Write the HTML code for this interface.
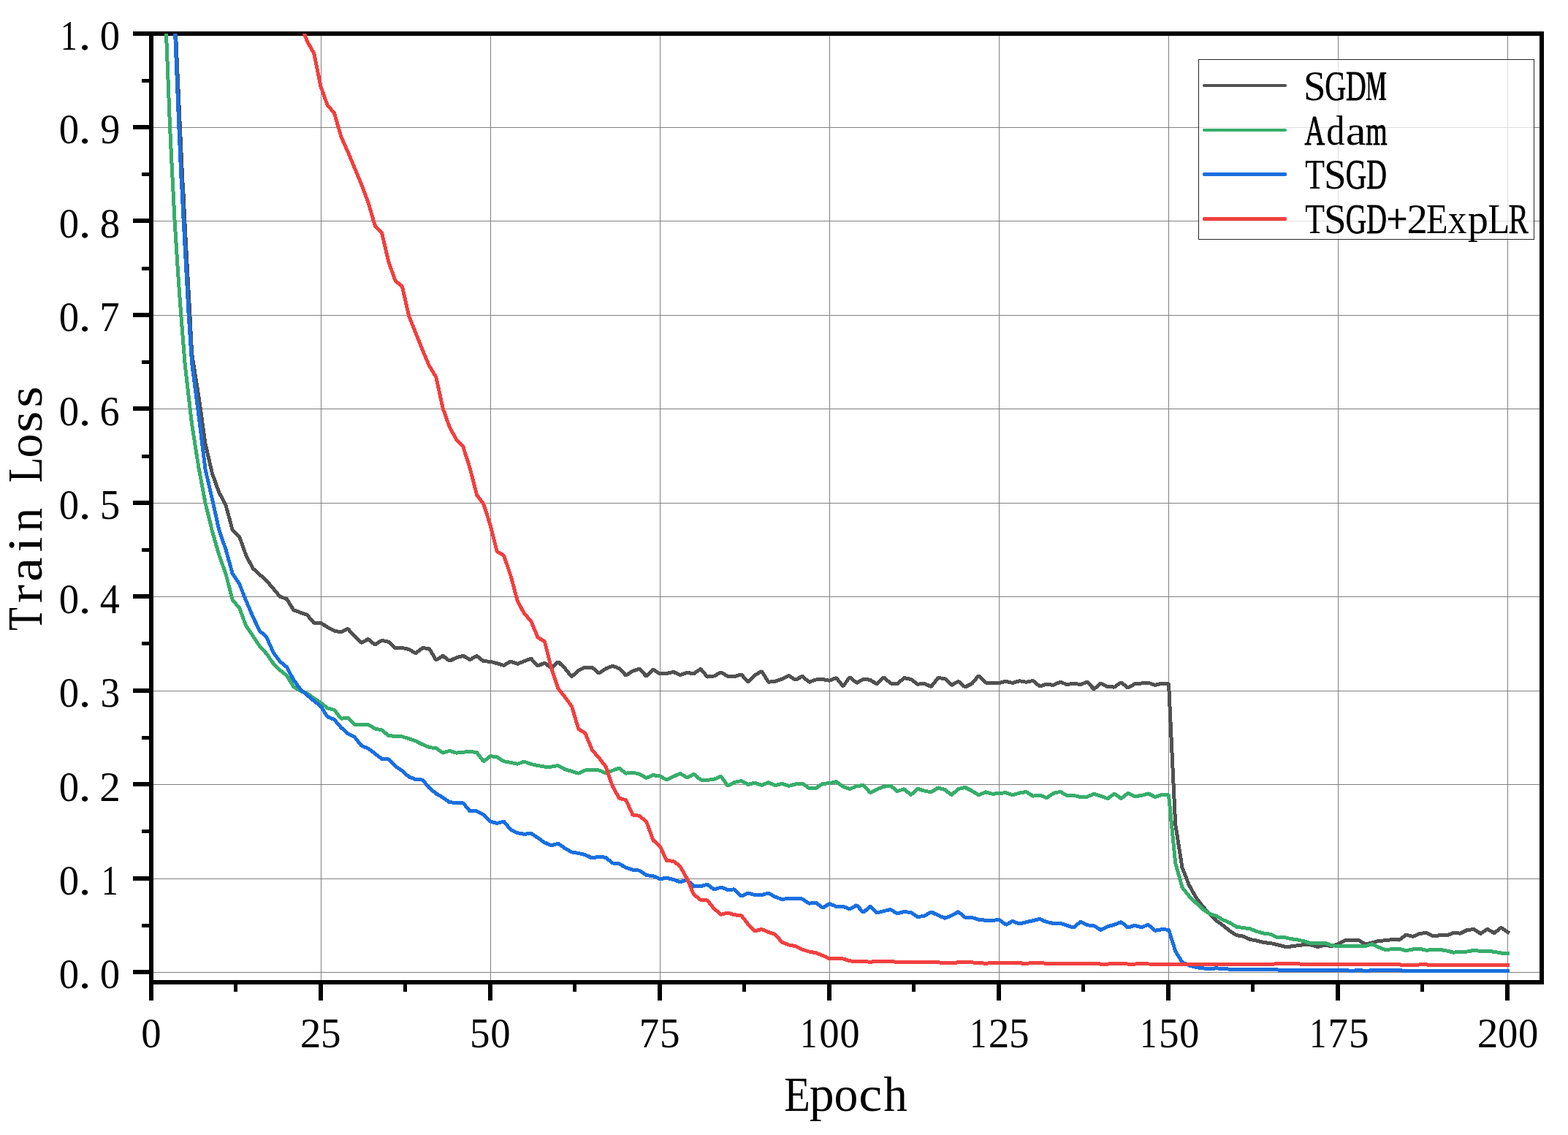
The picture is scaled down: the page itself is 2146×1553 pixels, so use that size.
<!DOCTYPE html>
<html lang="en"><head><meta charset="utf-8"><title>Train Loss</title>
<style>
html,body{margin:0;padding:0;background:#fff;}
body{width:2146px;height:1553px;overflow:hidden;}
svg{display:block;}
text{font-family:"Liberation Serif","DejaVu Serif",serif;fill:#000;}
</style></head>
<body>
<svg width="2146" height="1553" viewBox="0 0 2146 1553">
<rect x="0" y="0" width="2146" height="1553" fill="#fff"/>
<g fill="#808080" shape-rendering="crispEdges"><rect x="439" y="46" width="1" height="1298"/><rect x="671" y="46" width="1" height="1298"/><rect x="903" y="46" width="1" height="1298"/><rect x="1135" y="46" width="1" height="1298"/><rect x="1367" y="46" width="1" height="1298"/><rect x="1599" y="46" width="1" height="1298"/><rect x="1831" y="46" width="1" height="1298"/><rect x="2063" y="46" width="1" height="1298"/><rect x="207" y="174" width="1903" height="1"/><rect x="207" y="302" width="1903" height="1"/><rect x="207" y="431" width="1903" height="1"/><rect x="207" y="559" width="1903" height="1"/><rect x="207" y="688" width="1903" height="1"/><rect x="207" y="816" width="1903" height="1"/><rect x="207" y="945" width="1903" height="1"/><rect x="207" y="1073" width="1903" height="1"/><rect x="207" y="1202" width="1903" height="1"/><rect x="207" y="1330" width="1903" height="1"/></g>
<g fill="#000" shape-rendering="crispEdges">
<rect x="182" y="43" width="1931" height="6"/><rect x="204" y="1341" width="1909" height="6"/><rect x="204" y="43" width="6" height="1326"/><rect x="2107" y="43" width="6" height="1304"/><rect x="182" y="171" width="22" height="6"/><rect x="182" y="299" width="22" height="6"/><rect x="182" y="428" width="22" height="6"/><rect x="182" y="556" width="22" height="6"/><rect x="182" y="685" width="22" height="6"/><rect x="182" y="813" width="22" height="6"/><rect x="182" y="942" width="22" height="6"/><rect x="182" y="1070" width="22" height="6"/><rect x="182" y="1199" width="22" height="6"/><rect x="182" y="1327" width="22" height="6"/><rect x="194" y="1264" width="10" height="5"/><rect x="194" y="1135" width="10" height="5"/><rect x="194" y="1007" width="10" height="5"/><rect x="194" y="878" width="10" height="5"/><rect x="194" y="750" width="10" height="5"/><rect x="194" y="622" width="10" height="5"/><rect x="194" y="493" width="10" height="5"/><rect x="194" y="365" width="10" height="5"/><rect x="194" y="236" width="10" height="5"/><rect x="194" y="108" width="10" height="5"/><rect x="436" y="1347" width="6" height="22"/><rect x="668" y="1347" width="6" height="22"/><rect x="900" y="1347" width="6" height="22"/><rect x="1132" y="1347" width="6" height="22"/><rect x="1364" y="1347" width="6" height="22"/><rect x="1596" y="1347" width="6" height="22"/><rect x="1828" y="1347" width="6" height="22"/><rect x="2060" y="1347" width="6" height="22"/><rect x="320" y="1347" width="5" height="10"/><rect x="552" y="1347" width="5" height="10"/><rect x="784" y="1347" width="5" height="10"/><rect x="1016" y="1347" width="5" height="10"/><rect x="1248" y="1347" width="5" height="10"/><rect x="1480" y="1347" width="5" height="10"/><rect x="1712" y="1347" width="5" height="10"/><rect x="1944" y="1347" width="5" height="10"/>
</g>
<defs><clipPath id="plotclip"><rect x="207" y="46" width="1903" height="1298"/></clipPath></defs>
<g clip-path="url(#plotclip)" fill="none" stroke-width="5" stroke-linejoin="bevel" stroke-linecap="square" shape-rendering="crispEdges">
<polyline stroke="#515151" stroke-width="3.6" shape-rendering="geometricPrecision" points="239.8,26 240.5,45.9 246.4,174.5 250.3,257 250.3,250 252.8,302.5 259.9,431.3 262.6,484.1 271.8,541.9 281.1,607.4 290.4,647.6 299.7,673.6 309,691.2 318.3,725.6 327.5,734 336.8,760 346.1,777.7 355.4,786.1 364.7,794.5 374,805.4 383.2,816.3 392.5,819.6 401.8,834.7 411.1,838.1 420.4,841.4 429.7,852.3 439,852.3 448.2,858.2 457.5,863.2 466.8,864.9 476.1,860.4 485.4,870.8 494.7,879.5 503.9,874.5 513.2,882.2 522.5,876.2 531.8,878.3 541.1,886.7 550.4,886.5 559.6,888.4 568.9,893.9 578.2,886.7 587.5,887.5 596.8,903.2 606.1,897.3 615.3,904.3 624.6,899.8 633.9,897.3 643.2,902.6 652.5,897.3 661.8,904.8 671.1,905.2 680.3,907.7 689.6,910.5 698.9,904.9 708.2,908.4 717.5,904.6 726.8,901.2 736,911.3 745.3,907 754.6,914 763.9,905.4 773.2,914.6 782.5,925.9 791.7,917.2 801,913 810.3,913 819.6,921.4 828.9,914.9 838.2,911.2 847.4,914.6 856.7,924.2 866,918 875.3,915.2 884.6,925.3 893.9,916.1 903.2,921.9 912.4,921.4 921.7,919.4 931,923.6 940.3,920.3 949.6,921.9 958.9,915.2 968.1,926.1 977.4,925 986.7,919.8 996,925.3 1005.3,925.6 1014.6,922.8 1023.8,933.2 1033.1,924 1042.4,918.4 1051.7,933.3 1061,932.2 1070.3,929 1079.5,924.5 1088.8,930.3 1098.1,925.3 1107.4,933.3 1116.7,930 1126,929.5 1135.2,931.2 1144.5,927.5 1153.8,939 1163.1,926.5 1172.4,934.5 1181.7,929.2 1191,930.3 1200.2,936.2 1209.5,926.5 1218.8,935 1228.1,935.9 1237.4,927.5 1246.7,929.5 1255.9,936.2 1265.2,935.4 1274.5,939.6 1283.8,927.5 1293.1,928.6 1302.4,937.5 1311.6,932.3 1320.9,940.1 1330.2,935.4 1339.5,924.5 1348.8,934 1358.1,934.2 1367.3,934.5 1376.6,932.3 1385.9,934.5 1395.2,931.7 1404.5,933.3 1413.8,931.5 1423.1,939.2 1432.3,936.2 1441.6,937.4 1450.9,933.2 1460.2,936.5 1469.5,935.4 1478.8,936.5 1488,933.2 1497.3,942.9 1506.6,935 1515.9,939.6 1525.2,940.1 1534.5,933.7 1543.7,941.2 1553,935.9 1562.3,935 1571.6,934.2 1580.9,937.4 1590.2,935 1599.5,935.4 1608.7,1127.9 1618,1187.3 1627.3,1210.8 1636.6,1227.6 1645.9,1240.1 1655.2,1250.2 1664.4,1259.4 1673.7,1266.1 1683,1273.7 1692.3,1279.6 1701.6,1281.2 1710.9,1285.4 1720.1,1287.1 1729.4,1289.6 1738.7,1290.5 1748,1292.6 1757.3,1295 1766.6,1295 1775.8,1293.8 1785.1,1292.5 1794.4,1292.9 1803.7,1295.6 1813,1293 1822.3,1294.7 1831.5,1291.6 1840.8,1286.8 1850.1,1286.8 1859.4,1286.2 1868.7,1292.2 1878,1289.9 1887.3,1287.3 1896.5,1286.8 1905.8,1285.5 1915.1,1286.1 1924.4,1279.2 1933.7,1281.4 1943,1277.5 1952.2,1276.3 1961.5,1280.9 1970.8,1279.7 1980.1,1280 1989.4,1276.3 1998.7,1277.2 2007.9,1272.5 2017.2,1271.6 2026.5,1277.5 2035.8,1271.3 2045.1,1276.7 2054.4,1269.3 2063.7,1275.5"/>
<polyline stroke="#515151" points="239.8,26 240.5,45.9 246.4,174.5 250.3,257 250.3,250 252.8,302.5 259.9,431.3 262.6,484.1 271.8,541.9 281.1,607.4 290.4,647.6 299.7,673.6 309,691.2 318.3,725.6 327.5,734 336.8,760 346.1,777.7 355.4,786.1 364.7,794.5 374,805.4 383.2,816.3 392.5,819.6 401.8,834.7 411.1,838.1 420.4,841.4 429.7,852.3 439,852.3 448.2,858.2 457.5,863.2 466.8,864.9 476.1,860.4 485.4,870.8 494.7,879.5 503.9,874.5 513.2,882.2 522.5,876.2 531.8,878.3 541.1,886.7 550.4,886.5 559.6,888.4 568.9,893.9 578.2,886.7 587.5,887.5 596.8,903.2 606.1,897.3 615.3,904.3 624.6,899.8 633.9,897.3 643.2,902.6 652.5,897.3 661.8,904.8 671.1,905.2 680.3,907.7 689.6,910.5 698.9,904.9 708.2,908.4 717.5,904.6 726.8,901.2 736,911.3 745.3,907 754.6,914 763.9,905.4 773.2,914.6 782.5,925.9 791.7,917.2 801,913 810.3,913 819.6,921.4 828.9,914.9 838.2,911.2 847.4,914.6 856.7,924.2 866,918 875.3,915.2 884.6,925.3 893.9,916.1 903.2,921.9 912.4,921.4 921.7,919.4 931,923.6 940.3,920.3 949.6,921.9 958.9,915.2 968.1,926.1 977.4,925 986.7,919.8 996,925.3 1005.3,925.6 1014.6,922.8 1023.8,933.2 1033.1,924 1042.4,918.4 1051.7,933.3 1061,932.2 1070.3,929 1079.5,924.5 1088.8,930.3 1098.1,925.3 1107.4,933.3 1116.7,930 1126,929.5 1135.2,931.2 1144.5,927.5 1153.8,939 1163.1,926.5 1172.4,934.5 1181.7,929.2 1191,930.3 1200.2,936.2 1209.5,926.5 1218.8,935 1228.1,935.9 1237.4,927.5 1246.7,929.5 1255.9,936.2 1265.2,935.4 1274.5,939.6 1283.8,927.5 1293.1,928.6 1302.4,937.5 1311.6,932.3 1320.9,940.1 1330.2,935.4 1339.5,924.5 1348.8,934 1358.1,934.2 1367.3,934.5 1376.6,932.3 1385.9,934.5 1395.2,931.7 1404.5,933.3 1413.8,931.5 1423.1,939.2 1432.3,936.2 1441.6,937.4 1450.9,933.2 1460.2,936.5 1469.5,935.4 1478.8,936.5 1488,933.2 1497.3,942.9 1506.6,935 1515.9,939.6 1525.2,940.1 1534.5,933.7 1543.7,941.2 1553,935.9 1562.3,935 1571.6,934.2 1580.9,937.4 1590.2,935 1599.5,935.4 1608.7,1127.9 1618,1187.3 1627.3,1210.8 1636.6,1227.6 1645.9,1240.1 1655.2,1250.2 1664.4,1259.4 1673.7,1266.1 1683,1273.7 1692.3,1279.6 1701.6,1281.2 1710.9,1285.4 1720.1,1287.1 1729.4,1289.6 1738.7,1290.5 1748,1292.6 1757.3,1295 1766.6,1295 1775.8,1293.8 1785.1,1292.5 1794.4,1292.9 1803.7,1295.6 1813,1293 1822.3,1294.7 1831.5,1291.6 1840.8,1286.8 1850.1,1286.8 1859.4,1286.2 1868.7,1292.2 1878,1289.9 1887.3,1287.3 1896.5,1286.8 1905.8,1285.5 1915.1,1286.1 1924.4,1279.2 1933.7,1281.4 1943,1277.5 1952.2,1276.3 1961.5,1280.9 1970.8,1279.7 1980.1,1280 1989.4,1276.3 1998.7,1277.2 2007.9,1272.5 2017.2,1271.6 2026.5,1277.5 2035.8,1271.3 2045.1,1276.7 2054.4,1269.3 2063.7,1275.5"/>
<polyline stroke="#37AD6B" stroke-width="3.6" shape-rendering="geometricPrecision" points="226.6,26 227.5,45.9 232.6,174.5 234.7,217.5 236.4,250 239.1,302.5 244,379.2 247.8,431.3 253.3,500 262.6,580.5 271.8,639.2 281.1,688.4 290.4,726.5 299.7,759.2 309,785.2 318.3,821.3 327.5,831.4 336.8,856.5 346.1,869.9 355.4,884.2 364.7,894.3 374,907.7 383.2,916.9 392.5,924.5 401.8,939.6 411.1,945.4 420.4,948.8 429.7,955.5 439,961.7 448.2,968.9 457.5,971.4 466.8,983.2 476.1,982.3 485.4,991.5 494.7,991.5 503.9,991.5 513.2,996.9 522.5,999 531.8,1006.6 541.1,1007.4 550.4,1007.8 559.6,1010.8 568.9,1013.9 578.2,1018.6 587.5,1022.6 596.8,1023.6 606.1,1030.2 615.3,1027.3 624.6,1030.2 633.9,1029.2 643.2,1028.3 652.5,1029.6 661.8,1041.8 671.1,1034.6 680.3,1035.9 689.6,1041.8 698.9,1043.3 708.2,1045.3 717.5,1042.1 726.8,1045.5 736,1047.5 745.3,1049.1 754.6,1049.1 763.9,1047.5 773.2,1052.6 782.5,1055.4 791.7,1058.2 801,1054 810.3,1053.2 819.6,1054 828.9,1057.8 838.2,1054.3 847.4,1050.9 856.7,1058.2 866,1057.1 875.3,1059.2 884.6,1064.5 893.9,1060.6 903.2,1062 912.4,1067 921.7,1062.5 931,1058.3 940.3,1064.2 949.6,1059.2 958.9,1067 968.1,1067.4 977.4,1066.2 986.7,1062.3 996,1075.1 1005.3,1070.4 1014.6,1068.4 1023.8,1073.4 1033.1,1071.2 1042.4,1074.4 1051.7,1070.6 1061,1074.6 1070.3,1072.4 1079.5,1075.4 1088.8,1072.9 1098.1,1072.1 1107.4,1078.5 1116.7,1078.5 1126,1072.4 1135.2,1071.7 1144.5,1069.6 1153.8,1076.3 1163.1,1079.6 1172.4,1075.8 1181.7,1074.3 1191,1084.7 1200.2,1080.1 1209.5,1076.3 1218.8,1075.1 1228.1,1082.6 1237.4,1079.6 1246.7,1087.7 1255.9,1079.3 1265.2,1082.1 1274.5,1083.8 1283.8,1077.9 1293.1,1080.5 1302.4,1087.7 1311.6,1079.6 1320.9,1077.4 1330.2,1082.1 1339.5,1088 1348.8,1083.8 1358.1,1086.3 1367.3,1085.5 1376.6,1084.7 1385.9,1087.8 1395.2,1085.1 1404.5,1083.5 1413.8,1089.2 1423.1,1088 1432.3,1091.7 1441.6,1085.5 1450.9,1083.3 1460.2,1088.5 1469.5,1088.5 1478.8,1090.5 1488,1090.2 1497.3,1086.3 1506.6,1089.4 1515.9,1092.7 1525.2,1086 1534.5,1092.7 1543.7,1085.2 1553,1089.7 1562.3,1088.5 1571.6,1085.8 1580.9,1090.5 1590.2,1087.5 1599.5,1088 1608.7,1180.9 1618,1214.1 1627.3,1225.9 1636.6,1235.1 1645.9,1244 1655.2,1250.2 1664.4,1253.1 1673.7,1258.6 1683,1262.5 1692.3,1268.2 1701.6,1269.5 1710.9,1270.8 1720.1,1274.5 1729.4,1277 1738.7,1278.2 1748,1282.9 1757.3,1282.4 1766.6,1284.6 1775.8,1285.9 1785.1,1287.9 1794.4,1291 1803.7,1290.1 1813,1290.1 1822.3,1293.5 1831.5,1294.7 1840.8,1294.7 1850.1,1294.7 1859.4,1294.7 1868.7,1294.7 1878,1291.8 1887.3,1296.2 1896.5,1299.8 1905.8,1298.5 1915.1,1298.2 1924.4,1300.7 1933.7,1299 1943,1298.1 1952.2,1300.3 1961.5,1299.3 1970.8,1299.3 1980.1,1301 1989.4,1303.2 1998.7,1302 2007.9,1302 2017.2,1300.3 2026.5,1301.5 2035.8,1301.2 2045.1,1302.3 2054.4,1304 2063.7,1304"/>
<polyline stroke="#37AD6B" points="226.6,26 227.5,45.9 232.6,174.5 234.7,217.5 236.4,250 239.1,302.5 244,379.2 247.8,431.3 253.3,500 262.6,580.5 271.8,639.2 281.1,688.4 290.4,726.5 299.7,759.2 309,785.2 318.3,821.3 327.5,831.4 336.8,856.5 346.1,869.9 355.4,884.2 364.7,894.3 374,907.7 383.2,916.9 392.5,924.5 401.8,939.6 411.1,945.4 420.4,948.8 429.7,955.5 439,961.7 448.2,968.9 457.5,971.4 466.8,983.2 476.1,982.3 485.4,991.5 494.7,991.5 503.9,991.5 513.2,996.9 522.5,999 531.8,1006.6 541.1,1007.4 550.4,1007.8 559.6,1010.8 568.9,1013.9 578.2,1018.6 587.5,1022.6 596.8,1023.6 606.1,1030.2 615.3,1027.3 624.6,1030.2 633.9,1029.2 643.2,1028.3 652.5,1029.6 661.8,1041.8 671.1,1034.6 680.3,1035.9 689.6,1041.8 698.9,1043.3 708.2,1045.3 717.5,1042.1 726.8,1045.5 736,1047.5 745.3,1049.1 754.6,1049.1 763.9,1047.5 773.2,1052.6 782.5,1055.4 791.7,1058.2 801,1054 810.3,1053.2 819.6,1054 828.9,1057.8 838.2,1054.3 847.4,1050.9 856.7,1058.2 866,1057.1 875.3,1059.2 884.6,1064.5 893.9,1060.6 903.2,1062 912.4,1067 921.7,1062.5 931,1058.3 940.3,1064.2 949.6,1059.2 958.9,1067 968.1,1067.4 977.4,1066.2 986.7,1062.3 996,1075.1 1005.3,1070.4 1014.6,1068.4 1023.8,1073.4 1033.1,1071.2 1042.4,1074.4 1051.7,1070.6 1061,1074.6 1070.3,1072.4 1079.5,1075.4 1088.8,1072.9 1098.1,1072.1 1107.4,1078.5 1116.7,1078.5 1126,1072.4 1135.2,1071.7 1144.5,1069.6 1153.8,1076.3 1163.1,1079.6 1172.4,1075.8 1181.7,1074.3 1191,1084.7 1200.2,1080.1 1209.5,1076.3 1218.8,1075.1 1228.1,1082.6 1237.4,1079.6 1246.7,1087.7 1255.9,1079.3 1265.2,1082.1 1274.5,1083.8 1283.8,1077.9 1293.1,1080.5 1302.4,1087.7 1311.6,1079.6 1320.9,1077.4 1330.2,1082.1 1339.5,1088 1348.8,1083.8 1358.1,1086.3 1367.3,1085.5 1376.6,1084.7 1385.9,1087.8 1395.2,1085.1 1404.5,1083.5 1413.8,1089.2 1423.1,1088 1432.3,1091.7 1441.6,1085.5 1450.9,1083.3 1460.2,1088.5 1469.5,1088.5 1478.8,1090.5 1488,1090.2 1497.3,1086.3 1506.6,1089.4 1515.9,1092.7 1525.2,1086 1534.5,1092.7 1543.7,1085.2 1553,1089.7 1562.3,1088.5 1571.6,1085.8 1580.9,1090.5 1590.2,1087.5 1599.5,1088 1608.7,1180.9 1618,1214.1 1627.3,1225.9 1636.6,1235.1 1645.9,1244 1655.2,1250.2 1664.4,1253.1 1673.7,1258.6 1683,1262.5 1692.3,1268.2 1701.6,1269.5 1710.9,1270.8 1720.1,1274.5 1729.4,1277 1738.7,1278.2 1748,1282.9 1757.3,1282.4 1766.6,1284.6 1775.8,1285.9 1785.1,1287.9 1794.4,1291 1803.7,1290.1 1813,1290.1 1822.3,1293.5 1831.5,1294.7 1840.8,1294.7 1850.1,1294.7 1859.4,1294.7 1868.7,1294.7 1878,1291.8 1887.3,1296.2 1896.5,1299.8 1905.8,1298.5 1915.1,1298.2 1924.4,1300.7 1933.7,1299 1943,1298.1 1952.2,1300.3 1961.5,1299.3 1970.8,1299.3 1980.1,1301 1989.4,1303.2 1998.7,1302 2007.9,1302 2017.2,1300.3 2026.5,1301.5 2035.8,1301.2 2045.1,1302.3 2054.4,1304 2063.7,1304"/>
<polyline stroke="#1A6FDF" stroke-width="3.6" shape-rendering="geometricPrecision" points="239,26 239.7,45.9 244.9,174.5 248.6,257 248.6,250 251.2,302.5 258.2,431.3 262.6,496.6 271.8,567.1 281.1,642.6 290.4,682.9 299.7,724.8 309,751.7 318.3,785.2 327.5,798.6 336.8,822.1 346.1,843.9 355.4,863.2 364.7,871.6 374,892.6 383.2,905.2 392.5,912.7 401.8,930.3 411.1,942.9 420.4,951.3 429.7,958.9 439,966.4 448.2,980.8 457.5,984.5 466.8,995.4 476.1,1003.8 485.4,1008.6 494.7,1020.3 503.9,1024 513.2,1031.2 522.5,1038.4 531.8,1039 541.1,1048.4 550.4,1054.6 559.6,1062.9 568.9,1066.5 578.2,1067.1 587.5,1078 596.8,1085.8 606.1,1091.2 615.3,1097.8 624.6,1098.3 633.9,1098.8 643.2,1109.9 652.5,1109.9 661.8,1114.9 671.1,1124 680.3,1126.5 689.6,1124 698.9,1135.1 708.2,1139.7 717.5,1141.4 726.8,1140.2 736,1146.4 745.3,1152.8 754.6,1157 763.9,1154.1 773.2,1160.8 782.5,1165.9 791.7,1167.5 801,1169.6 810.3,1174.1 819.6,1172.1 828.9,1173.3 838.2,1180.9 847.4,1181.9 856.7,1187.2 866,1190.3 875.3,1191.1 884.6,1197.6 893.9,1198.6 903.2,1202.7 912.4,1201.2 921.7,1203.5 931,1206.9 940.3,1204 949.6,1212.7 958.9,1212.7 968.1,1210.2 977.4,1217.1 986.7,1214.1 996,1217.4 1005.3,1216.9 1014.6,1226.2 1023.8,1222.1 1033.1,1224.5 1042.4,1224.5 1051.7,1222.1 1061,1227.2 1070.3,1230.5 1079.5,1229.2 1088.8,1229.2 1098.1,1230 1107.4,1236.2 1116.7,1235 1126,1242.1 1135.2,1236.6 1144.5,1240.3 1153.8,1240.3 1163.1,1244 1172.4,1238.6 1181.7,1248.6 1191,1239.9 1200.2,1249 1209.5,1246.6 1218.8,1244.5 1228.1,1250 1237.4,1247.5 1246.7,1248.6 1255.9,1254.5 1265.2,1253.3 1274.5,1247.8 1283.8,1252.3 1293.1,1256.2 1302.4,1252.8 1311.6,1247.5 1320.9,1255.4 1330.2,1255.4 1339.5,1258.4 1348.8,1259.2 1358.1,1259.6 1367.3,1258.2 1376.6,1265.4 1385.9,1260.4 1395.2,1264.1 1404.5,1261.7 1413.8,1259.7 1423.1,1257.4 1432.3,1261.5 1441.6,1263.4 1450.9,1263.2 1460.2,1266.3 1469.5,1269.1 1478.8,1261.2 1488,1265.8 1497.3,1266.8 1506.6,1272.5 1515.9,1267.9 1525.2,1265.1 1534.5,1261.6 1543.7,1269.1 1553,1266.3 1562.3,1268.7 1571.6,1265.4 1580.9,1273.3 1590.2,1271.7 1599.5,1272.2 1608.7,1301.4 1618,1316.7 1627.3,1320.9 1636.6,1323.4 1645.9,1324.9 1655.2,1325.4 1664.4,1324.9 1673.7,1325.3 1683,1326.2 1692.3,1326.5 1738.7,1326.9 1785.1,1327.4 1794.4,1327.8 1831.5,1327.9 1840.8,1327.7 1850.1,1328.2 1859.4,1327.7 1868.7,1328.2 1878,1327.9 1915.1,1327.9 1924.4,1328.2 1970.8,1328.2 2017.2,1328.2 2063.7,1328.2"/>
<polyline stroke="#1A6FDF" points="239,26 239.7,45.9 244.9,174.5 248.6,257 248.6,250 251.2,302.5 258.2,431.3 262.6,496.6 271.8,567.1 281.1,642.6 290.4,682.9 299.7,724.8 309,751.7 318.3,785.2 327.5,798.6 336.8,822.1 346.1,843.9 355.4,863.2 364.7,871.6 374,892.6 383.2,905.2 392.5,912.7 401.8,930.3 411.1,942.9 420.4,951.3 429.7,958.9 439,966.4 448.2,980.8 457.5,984.5 466.8,995.4 476.1,1003.8 485.4,1008.6 494.7,1020.3 503.9,1024 513.2,1031.2 522.5,1038.4 531.8,1039 541.1,1048.4 550.4,1054.6 559.6,1062.9 568.9,1066.5 578.2,1067.1 587.5,1078 596.8,1085.8 606.1,1091.2 615.3,1097.8 624.6,1098.3 633.9,1098.8 643.2,1109.9 652.5,1109.9 661.8,1114.9 671.1,1124 680.3,1126.5 689.6,1124 698.9,1135.1 708.2,1139.7 717.5,1141.4 726.8,1140.2 736,1146.4 745.3,1152.8 754.6,1157 763.9,1154.1 773.2,1160.8 782.5,1165.9 791.7,1167.5 801,1169.6 810.3,1174.1 819.6,1172.1 828.9,1173.3 838.2,1180.9 847.4,1181.9 856.7,1187.2 866,1190.3 875.3,1191.1 884.6,1197.6 893.9,1198.6 903.2,1202.7 912.4,1201.2 921.7,1203.5 931,1206.9 940.3,1204 949.6,1212.7 958.9,1212.7 968.1,1210.2 977.4,1217.1 986.7,1214.1 996,1217.4 1005.3,1216.9 1014.6,1226.2 1023.8,1222.1 1033.1,1224.5 1042.4,1224.5 1051.7,1222.1 1061,1227.2 1070.3,1230.5 1079.5,1229.2 1088.8,1229.2 1098.1,1230 1107.4,1236.2 1116.7,1235 1126,1242.1 1135.2,1236.6 1144.5,1240.3 1153.8,1240.3 1163.1,1244 1172.4,1238.6 1181.7,1248.6 1191,1239.9 1200.2,1249 1209.5,1246.6 1218.8,1244.5 1228.1,1250 1237.4,1247.5 1246.7,1248.6 1255.9,1254.5 1265.2,1253.3 1274.5,1247.8 1283.8,1252.3 1293.1,1256.2 1302.4,1252.8 1311.6,1247.5 1320.9,1255.4 1330.2,1255.4 1339.5,1258.4 1348.8,1259.2 1358.1,1259.6 1367.3,1258.2 1376.6,1265.4 1385.9,1260.4 1395.2,1264.1 1404.5,1261.7 1413.8,1259.7 1423.1,1257.4 1432.3,1261.5 1441.6,1263.4 1450.9,1263.2 1460.2,1266.3 1469.5,1269.1 1478.8,1261.2 1488,1265.8 1497.3,1266.8 1506.6,1272.5 1515.9,1267.9 1525.2,1265.1 1534.5,1261.6 1543.7,1269.1 1553,1266.3 1562.3,1268.7 1571.6,1265.4 1580.9,1273.3 1590.2,1271.7 1599.5,1272.2 1608.7,1301.4 1618,1316.7 1627.3,1320.9 1636.6,1323.4 1645.9,1324.9 1655.2,1325.4 1664.4,1324.9 1673.7,1325.3 1683,1326.2 1692.3,1326.5 1738.7,1326.9 1785.1,1327.4 1794.4,1327.8 1831.5,1327.9 1840.8,1327.7 1850.1,1328.2 1859.4,1327.7 1868.7,1328.2 1878,1327.9 1915.1,1327.9 1924.4,1328.2 1970.8,1328.2 2017.2,1328.2 2063.7,1328.2"/>
<polyline stroke="#F14040" stroke-width="3.6" shape-rendering="geometricPrecision" points="411.1,31.6 416.4,45.9 420.4,56.5 429.7,72.9 439,118.3 448.2,144.1 457.5,154.6 466.8,186.8 476.1,207.8 485.4,230.1 494.7,252.4 503.9,276.8 513.2,308.7 522.5,318.4 531.8,358.2 541.1,384.2 550.4,391.8 559.6,432.2 568.9,455.4 578.2,478.8 587.5,500.7 596.8,515.8 606.1,558.5 615.3,584.5 624.6,601.3 633.9,611.4 643.2,640.8 652.5,677 661.8,689.5 671.1,718.8 680.3,754.9 689.6,759.9 698.9,787.6 708.2,822 717.5,839.6 726.8,849.7 736,872.3 745.3,877.4 754.6,914.2 763.9,942.1 773.2,953.8 782.5,966.4 791.7,997.4 801,1003.3 810.3,1025.9 819.6,1036.8 828.9,1048.6 838.2,1075.4 847.4,1092.2 856.7,1094.7 866,1115 875.3,1116.4 884.6,1124.2 893.9,1149.5 903.2,1157.9 912.4,1177.5 921.7,1178.3 931,1185.6 940.3,1202.3 949.6,1224.1 958.9,1231.2 968.1,1232 977.4,1243.4 986.7,1251.3 996,1249 1005.3,1251.8 1014.6,1252.7 1023.8,1264.4 1033.1,1274.1 1042.4,1271.4 1051.7,1275.3 1061,1278.7 1070.3,1289.2 1079.5,1292.9 1088.8,1294.6 1098.1,1299.1 1107.4,1302.1 1116.7,1303.8 1126,1307.5 1135.2,1311.6 1144.5,1311.6 1153.8,1311.9 1163.1,1314.9 1172.4,1315.4 1181.7,1315.4 1191,1316.3 1200.2,1315.2 1209.5,1315.2 1218.8,1315.2 1228.1,1316.6 1237.4,1316.3 1246.7,1316.8 1255.9,1316.9 1265.2,1316.9 1274.5,1316.9 1283.8,1316.9 1293.1,1317.4 1302.4,1317.4 1311.6,1316.9 1320.9,1316.9 1330.2,1316.9 1339.5,1317.4 1348.8,1318.3 1358.1,1317.4 1367.3,1317.4 1376.6,1317.4 1385.9,1317.4 1395.2,1317.8 1404.5,1318.4 1413.8,1317.4 1423.1,1317.4 1432.3,1318.4 1441.6,1318.4 1450.9,1318.4 1460.2,1318.4 1469.5,1318.4 1478.8,1318.4 1488,1318.4 1497.3,1318.4 1506.6,1319.1 1515.9,1319.1 1525.2,1318.3 1534.5,1318.3 1543.7,1319.1 1553,1319.1 1562.3,1318.2 1571.6,1319 1580.9,1319.1 1590.2,1319.1 1599.5,1319.3 1618,1319.3 1636.6,1319.4 1645.9,1319.3 1655.2,1319.4 1673.7,1319.6 1692.3,1319.5 1738.7,1319.5 1748,1318.6 1775.8,1318.6 1785.1,1319.8 1794.4,1319.8 1831.5,1319.8 1878,1319.9 1915.1,1319.9 1924.4,1320.6 1933.7,1320.6 1943,1319.9 1952.2,1319.9 1961.5,1320.6 1970.8,1320.1 2017.2,1320.1 2026.5,1320.6 2063.7,1320.6"/>
<polyline stroke="#F14040" points="411.1,31.6 416.4,45.9 420.4,56.5 429.7,72.9 439,118.3 448.2,144.1 457.5,154.6 466.8,186.8 476.1,207.8 485.4,230.1 494.7,252.4 503.9,276.8 513.2,308.7 522.5,318.4 531.8,358.2 541.1,384.2 550.4,391.8 559.6,432.2 568.9,455.4 578.2,478.8 587.5,500.7 596.8,515.8 606.1,558.5 615.3,584.5 624.6,601.3 633.9,611.4 643.2,640.8 652.5,677 661.8,689.5 671.1,718.8 680.3,754.9 689.6,759.9 698.9,787.6 708.2,822 717.5,839.6 726.8,849.7 736,872.3 745.3,877.4 754.6,914.2 763.9,942.1 773.2,953.8 782.5,966.4 791.7,997.4 801,1003.3 810.3,1025.9 819.6,1036.8 828.9,1048.6 838.2,1075.4 847.4,1092.2 856.7,1094.7 866,1115 875.3,1116.4 884.6,1124.2 893.9,1149.5 903.2,1157.9 912.4,1177.5 921.7,1178.3 931,1185.6 940.3,1202.3 949.6,1224.1 958.9,1231.2 968.1,1232 977.4,1243.4 986.7,1251.3 996,1249 1005.3,1251.8 1014.6,1252.7 1023.8,1264.4 1033.1,1274.1 1042.4,1271.4 1051.7,1275.3 1061,1278.7 1070.3,1289.2 1079.5,1292.9 1088.8,1294.6 1098.1,1299.1 1107.4,1302.1 1116.7,1303.8 1126,1307.5 1135.2,1311.6 1144.5,1311.6 1153.8,1311.9 1163.1,1314.9 1172.4,1315.4 1181.7,1315.4 1191,1316.3 1200.2,1315.2 1209.5,1315.2 1218.8,1315.2 1228.1,1316.6 1237.4,1316.3 1246.7,1316.8 1255.9,1316.9 1265.2,1316.9 1274.5,1316.9 1283.8,1316.9 1293.1,1317.4 1302.4,1317.4 1311.6,1316.9 1320.9,1316.9 1330.2,1316.9 1339.5,1317.4 1348.8,1318.3 1358.1,1317.4 1367.3,1317.4 1376.6,1317.4 1385.9,1317.4 1395.2,1317.8 1404.5,1318.4 1413.8,1317.4 1423.1,1317.4 1432.3,1318.4 1441.6,1318.4 1450.9,1318.4 1460.2,1318.4 1469.5,1318.4 1478.8,1318.4 1488,1318.4 1497.3,1318.4 1506.6,1319.1 1515.9,1319.1 1525.2,1318.3 1534.5,1318.3 1543.7,1319.1 1553,1319.1 1562.3,1318.2 1571.6,1319 1580.9,1319.1 1590.2,1319.1 1599.5,1319.3 1618,1319.3 1636.6,1319.4 1645.9,1319.3 1655.2,1319.4 1673.7,1319.6 1692.3,1319.5 1738.7,1319.5 1748,1318.6 1775.8,1318.6 1785.1,1319.8 1794.4,1319.8 1831.5,1319.8 1878,1319.9 1915.1,1319.9 1924.4,1320.6 1933.7,1320.6 1943,1319.9 1952.2,1319.9 1961.5,1320.6 1970.8,1320.1 2017.2,1320.1 2026.5,1320.6 2063.7,1320.6"/>
</g>
<g stroke-linejoin="round">
<text y="68.3" font-size="56.6"><tspan x="82.86" textLength="23.01" lengthAdjust="spacingAndGlyphs">1</tspan><tspan x="107.69" textLength="16.71" lengthAdjust="spacingAndGlyphs" stroke="#000" stroke-width="0.3">.</tspan><tspan x="136.82" textLength="27.37" lengthAdjust="spacingAndGlyphs">0</tspan></text>
<text y="196.3" font-size="56.6"><tspan x="80.82" textLength="27.37" lengthAdjust="spacingAndGlyphs">0</tspan><tspan x="107.69" textLength="16.71" lengthAdjust="spacingAndGlyphs" stroke="#000" stroke-width="0.3">.</tspan><tspan x="137.26" textLength="27.06" lengthAdjust="spacingAndGlyphs">9</tspan></text>
<text y="325.3" font-size="56.6"><tspan x="80.82" textLength="27.37" lengthAdjust="spacingAndGlyphs">0</tspan><tspan x="107.69" textLength="16.71" lengthAdjust="spacingAndGlyphs" stroke="#000" stroke-width="0.3">.</tspan><tspan x="136.82" textLength="27.37" lengthAdjust="spacingAndGlyphs">8</tspan></text>
<text y="453.3" font-size="56.6"><tspan x="80.82" textLength="27.37" lengthAdjust="spacingAndGlyphs">0</tspan><tspan x="107.69" textLength="16.71" lengthAdjust="spacingAndGlyphs" stroke="#000" stroke-width="0.3">.</tspan><tspan x="136.29" textLength="27.39" lengthAdjust="spacingAndGlyphs">7</tspan></text>
<text y="582.3" font-size="56.6"><tspan x="80.82" textLength="27.37" lengthAdjust="spacingAndGlyphs">0</tspan><tspan x="107.69" textLength="16.71" lengthAdjust="spacingAndGlyphs" stroke="#000" stroke-width="0.3">.</tspan><tspan x="136.57" textLength="27.15" lengthAdjust="spacingAndGlyphs">6</tspan></text>
<text y="710.3" font-size="56.6"><tspan x="80.82" textLength="27.37" lengthAdjust="spacingAndGlyphs">0</tspan><tspan x="107.69" textLength="16.71" lengthAdjust="spacingAndGlyphs" stroke="#000" stroke-width="0.3">.</tspan><tspan x="136.7" textLength="27.55" lengthAdjust="spacingAndGlyphs">5</tspan></text>
<text y="839.3" font-size="56.6"><tspan x="80.82" textLength="27.37" lengthAdjust="spacingAndGlyphs">0</tspan><tspan x="107.69" textLength="16.71" lengthAdjust="spacingAndGlyphs" stroke="#000" stroke-width="0.3">.</tspan><tspan x="136.84" textLength="27.11" lengthAdjust="spacingAndGlyphs">4</tspan></text>
<text y="967.3" font-size="56.6"><tspan x="80.82" textLength="27.37" lengthAdjust="spacingAndGlyphs">0</tspan><tspan x="107.69" textLength="16.71" lengthAdjust="spacingAndGlyphs" stroke="#000" stroke-width="0.3">.</tspan><tspan x="137.45" textLength="26.63" lengthAdjust="spacingAndGlyphs">3</tspan></text>
<text y="1096.3" font-size="56.6"><tspan x="80.82" textLength="27.37" lengthAdjust="spacingAndGlyphs">0</tspan><tspan x="107.69" textLength="16.71" lengthAdjust="spacingAndGlyphs" stroke="#000" stroke-width="0.3">.</tspan><tspan x="136.38" textLength="28.69" lengthAdjust="spacingAndGlyphs">2</tspan></text>
<text y="1224.3" font-size="56.6"><tspan x="80.82" textLength="27.37" lengthAdjust="spacingAndGlyphs">0</tspan><tspan x="107.69" textLength="16.71" lengthAdjust="spacingAndGlyphs" stroke="#000" stroke-width="0.3">.</tspan><tspan x="138.86" textLength="23.01" lengthAdjust="spacingAndGlyphs">1</tspan></text>
<text y="1352.3" font-size="56.6"><tspan x="80.82" textLength="27.37" lengthAdjust="spacingAndGlyphs">0</tspan><tspan x="107.69" textLength="16.71" lengthAdjust="spacingAndGlyphs" stroke="#000" stroke-width="0.3">.</tspan><tspan x="136.82" textLength="27.37" lengthAdjust="spacingAndGlyphs">0</tspan></text>
<text y="1433" font-size="56.6"><tspan x="193.22" textLength="27.37" lengthAdjust="spacingAndGlyphs">0</tspan></text>
<text y="1433" font-size="56.6"><tspan x="410.78" textLength="28.69" lengthAdjust="spacingAndGlyphs">2</tspan><tspan x="439.1" textLength="27.55" lengthAdjust="spacingAndGlyphs">5</tspan></text>
<text y="1433" font-size="56.6"><tspan x="643.1" textLength="27.55" lengthAdjust="spacingAndGlyphs">5</tspan><tspan x="671.22" textLength="27.37" lengthAdjust="spacingAndGlyphs">0</tspan></text>
<text y="1433" font-size="56.6"><tspan x="874.69" textLength="27.39" lengthAdjust="spacingAndGlyphs">7</tspan><tspan x="903.1" textLength="27.55" lengthAdjust="spacingAndGlyphs">5</tspan></text>
<text y="1433" font-size="56.6"><tspan x="1095.26" textLength="23.01" lengthAdjust="spacingAndGlyphs">1</tspan><tspan x="1121.22" textLength="27.37" lengthAdjust="spacingAndGlyphs">0</tspan><tspan x="1149.22" textLength="27.37" lengthAdjust="spacingAndGlyphs">0</tspan></text>
<text y="1433" font-size="56.6"><tspan x="1327.26" textLength="23.01" lengthAdjust="spacingAndGlyphs">1</tspan><tspan x="1352.78" textLength="28.69" lengthAdjust="spacingAndGlyphs">2</tspan><tspan x="1381.1" textLength="27.55" lengthAdjust="spacingAndGlyphs">5</tspan></text>
<text y="1433" font-size="56.6"><tspan x="1560.16" textLength="23.01" lengthAdjust="spacingAndGlyphs">1</tspan><tspan x="1586" textLength="27.55" lengthAdjust="spacingAndGlyphs">5</tspan><tspan x="1614.12" textLength="27.37" lengthAdjust="spacingAndGlyphs">0</tspan></text>
<text y="1433" font-size="56.6"><tspan x="1792.16" textLength="23.01" lengthAdjust="spacingAndGlyphs">1</tspan><tspan x="1817.59" textLength="27.39" lengthAdjust="spacingAndGlyphs">7</tspan><tspan x="1846" textLength="27.55" lengthAdjust="spacingAndGlyphs">5</tspan></text>
<text y="1433" font-size="56.6"><tspan x="2021.68" textLength="28.69" lengthAdjust="spacingAndGlyphs">2</tspan><tspan x="2050.12" textLength="27.37" lengthAdjust="spacingAndGlyphs">0</tspan><tspan x="2078.12" textLength="27.37" lengthAdjust="spacingAndGlyphs">0</tspan></text>
<text y="1519.9" font-size="68.4"><tspan x="1073.22" textLength="35.58" lengthAdjust="spacingAndGlyphs">E</tspan><tspan x="1107.81" textLength="33.83" lengthAdjust="spacingAndGlyphs">p</tspan><tspan x="1141.39" textLength="32.91" lengthAdjust="spacingAndGlyphs">o</tspan><tspan x="1175.16" textLength="31.96" lengthAdjust="spacingAndGlyphs">c</tspan><tspan x="1209.26" textLength="32.6" lengthAdjust="spacingAndGlyphs">h</tspan></text>
<g transform="translate(57,862.5) rotate(-90)"><text y="0" font-size="68.4"><tspan x="-0.23" textLength="31.59" lengthAdjust="spacingAndGlyphs" stroke="#000" stroke-width="0.29">T</tspan><tspan x="37.15" textLength="25.06" lengthAdjust="spacingAndGlyphs">r</tspan><tspan x="66.59" textLength="33.4" lengthAdjust="spacingAndGlyphs">a</tspan><tspan x="107.02" textLength="20.9" lengthAdjust="spacingAndGlyphs">i</tspan><tspan x="135.1" textLength="32.58" lengthAdjust="spacingAndGlyphs">n</tspan><tspan x="168.7"> </tspan><tspan x="201.95" textLength="34.99" lengthAdjust="spacingAndGlyphs">L</tspan><tspan x="235.97" textLength="33.15" lengthAdjust="spacingAndGlyphs">o</tspan><tspan x="270.78" textLength="29.28" lengthAdjust="spacingAndGlyphs">s</tspan><tspan x="304.88" textLength="29.28" lengthAdjust="spacingAndGlyphs">s</tspan></text></g>
</g>
<rect x="1640.5" y="81.5" width="459" height="246" fill="#fff" fill-opacity="0.74" stroke="#262626" stroke-width="1" shape-rendering="crispEdges"/>
<g stroke-linejoin="round">
<rect x="1646" y="115" width="115" height="4" rx="1.8" fill="#515151"/><text y="136.8" font-size="57.3"><tspan x="1784.04" textLength="30.46" lengthAdjust="spacingAndGlyphs">S</tspan><tspan x="1813.25" textLength="29" lengthAdjust="spacingAndGlyphs" stroke="#000" stroke-width="0.69">G</tspan><tspan x="1841.89" textLength="27.75" lengthAdjust="spacingAndGlyphs" stroke="#000" stroke-width="0.97">D</tspan><tspan x="1869.48" textLength="28.59" lengthAdjust="spacingAndGlyphs" font-weight="bold">M</tspan></text>
<rect x="1646" y="176" width="115" height="4" rx="1.8" fill="#37AD6B"/><text y="197.8" font-size="57.3"><tspan x="1785.62" textLength="27.76" lengthAdjust="spacingAndGlyphs" stroke="#000" stroke-width="0.96">A</tspan><tspan x="1815.28" textLength="25.24" lengthAdjust="spacingAndGlyphs">d</tspan><tspan x="1841.84" textLength="27.98" lengthAdjust="spacingAndGlyphs">a</tspan><tspan x="1869.21" textLength="29.38" lengthAdjust="spacingAndGlyphs" stroke="#000" stroke-width="1.08">m</tspan></text>
<rect x="1646" y="236" width="115" height="5" rx="1.8" fill="#1A6FDF"/><text y="258" font-size="57.3"><tspan x="1786.21" textLength="26.61" lengthAdjust="spacingAndGlyphs" stroke="#000" stroke-width="0.21">T</tspan><tspan x="1812.12" textLength="30.59" lengthAdjust="spacingAndGlyphs">S</tspan><tspan x="1841.78" textLength="28.45" lengthAdjust="spacingAndGlyphs" stroke="#000" stroke-width="0.81">G</tspan><tspan x="1870.2" textLength="27.63" lengthAdjust="spacingAndGlyphs" stroke="#000" stroke-width="0.99">D</tspan></text>
<rect x="1646" y="297" width="115" height="5" rx="1.8" fill="#F14040"/><text y="318.9" font-size="57.3"><tspan x="1786.21" textLength="26.61" lengthAdjust="spacingAndGlyphs" stroke="#000" stroke-width="0.21">T</tspan><tspan x="1812.12" textLength="30.59" lengthAdjust="spacingAndGlyphs">S</tspan><tspan x="1841.78" textLength="28.45" lengthAdjust="spacingAndGlyphs" stroke="#000" stroke-width="0.81">G</tspan><tspan x="1870.2" textLength="27.63" lengthAdjust="spacingAndGlyphs" stroke="#000" stroke-width="0.99">D</tspan><tspan x="1897.44" textLength="28.97" lengthAdjust="spacingAndGlyphs" stroke="#000" stroke-width="0.7">+</tspan><tspan x="1925.4" textLength="28.44" lengthAdjust="spacingAndGlyphs">2</tspan><tspan x="1952.01" textLength="29.5" lengthAdjust="spacingAndGlyphs">E</tspan><tspan x="1981.65" textLength="25.68" lengthAdjust="spacingAndGlyphs">x</tspan><tspan x="2008.69" textLength="28.21" lengthAdjust="spacingAndGlyphs">p</tspan><tspan x="2036.6" textLength="29.61" lengthAdjust="spacingAndGlyphs">L</tspan><tspan x="2064.42" textLength="27.34" lengthAdjust="spacingAndGlyphs" stroke="#000" stroke-width="0.56">R</tspan></text>
</g>
</svg>
</body></html>
